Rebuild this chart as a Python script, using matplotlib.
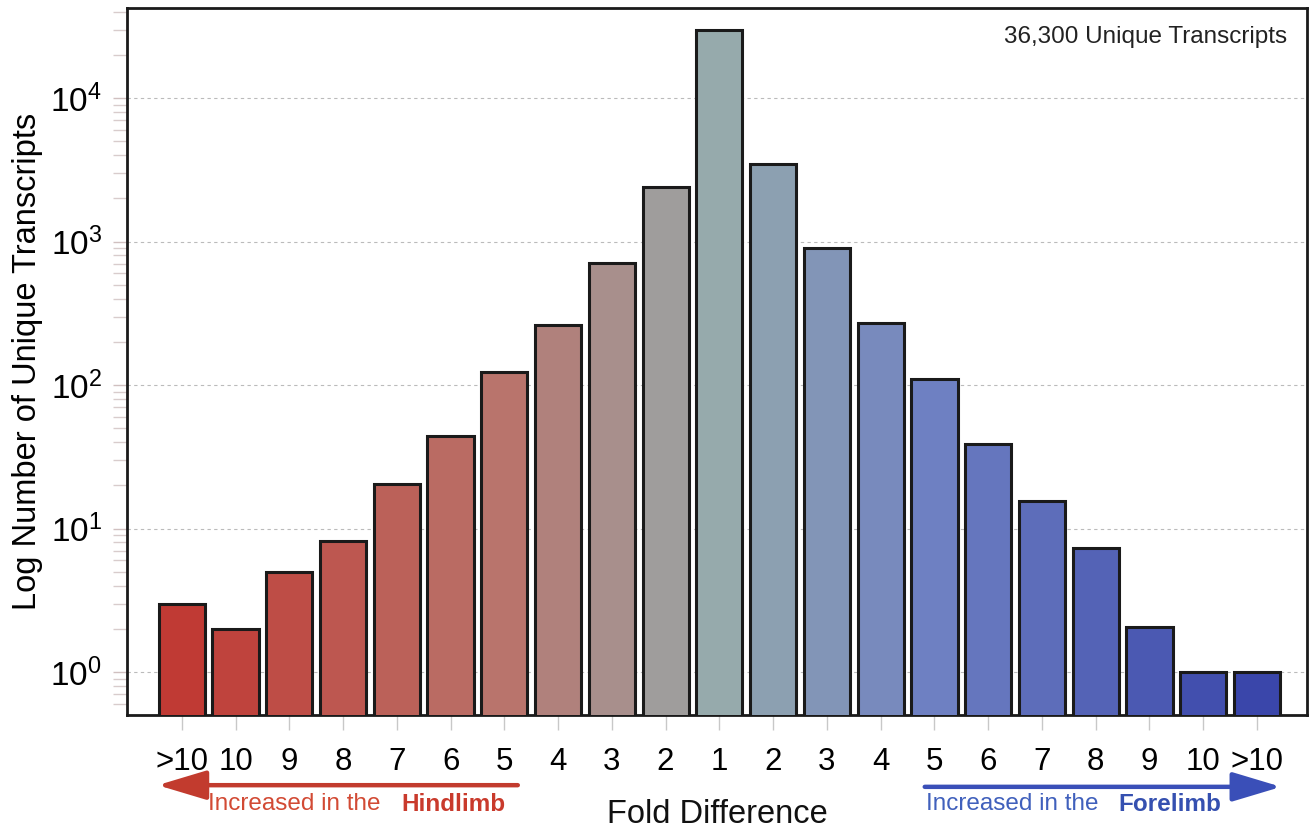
import numpy as np
import matplotlib.pyplot as plt
from matplotlib.colors import LinearSegmentedColormap
from matplotlib.transforms import blended_transform_factory
from matplotlib.ticker import LogLocator, NullFormatter

plt.rcParams['font.family'] = ['Liberation Sans', 'DejaVu Sans']

# Fold difference categories, hindlimb side -> forelimb side
fold_labels = ['>10', '10', '9', '8', '7', '6', '5', '4', '3', '2', '1',
               '2', '3', '4', '5', '6', '7', '8', '9', '10', '>10']
transcripts = [3.0, 2.0, 5.0, 8.2, 20.5, 44, 123, 262, 710, 2400, 30000,
               3450, 900, 270, 110, 39, 15.5, 7.3, 2.05, 1.0, 1.0]

total_label = '36,300 Unique Transcripts'

# colour gradient red -> grey -> blue
cmap = LinearSegmentedColormap.from_list(
    'limb', [(0.0, '#c03a34'), (0.3, '#b9746c'), (0.5, '#96aaac'),
             (0.7, '#6e80c2'), (1.0, '#3a46aa')])

x = np.arange(len(fold_labels))
colors = [cmap(i / (len(x) - 1)) for i in x]

fig = plt.figure(figsize=(13.13, 8.3), dpi=100)
ax = fig.add_axes([0.0967, 0.1386, 0.8987, 0.8518])

ax.bar(x, transcripts, width=0.86, color=colors, edgecolor='#1a1a1a',
       linewidth=2.2, zorder=3)

ax.set_yscale('log')
ax.set_ylim(0.502, 42400)
ax.set_xlim(-1.02, 20.93)

ax.yaxis.set_major_locator(LogLocator(base=10, numticks=10))
ax.yaxis.set_minor_locator(LogLocator(base=10, subs=np.arange(2, 10), numticks=20))
ax.yaxis.set_minor_formatter(NullFormatter())
ax.grid(axis='y', which='major', linestyle=(0, (3, 3)), color='#bbbbbb',
        linewidth=0.8, zorder=0)

ax.set_xticks(x)
ax.set_xticklabels(fold_labels, fontsize=22.5)
ax.tick_params(axis='x', length=11, width=1, color='#c8c8c8', pad=12)
ax.tick_params(axis='y', which='major', length=10, width=1, color='#d0c0c0',
               labelsize=24, pad=8)
ax.tick_params(axis='y', which='minor', length=10, width=1, color='#d8cccc')

for s in ax.spines.values():
    s.set_linewidth(2)
    s.set_color('#1a1a1a')

ax.set_ylabel('Log Number of Unique Transcripts', fontsize=23.5, labelpad=5)

ax.text(0.983, 0.975, total_label, transform=ax.transAxes, ha='right',
        va='top', fontsize=17.5, color='#222222')

fig.text(0.546, 0.019, 'Fold Difference', ha='center', va='center',
         fontsize=23.5, color='#111111')

# direction arrows under the axis
tr = blended_transform_factory(ax.transData, fig.transFigure)
red = '#c23b2e'
blue = '#3a4fb8'
astyle = '-|>,head_length=1.5,head_width=0.45'
ax.annotate('', xy=(-0.45, 0.054), xytext=(6.25, 0.054), xycoords=tr,
            textcoords=tr, annotation_clip=False,
            arrowprops=dict(arrowstyle=astyle, lw=3.2, color=red,
                            mutation_scale=20, shrinkA=0, shrinkB=0))
ax.annotate('', xy=(20.45, 0.052), xytext=(13.82, 0.052), xycoords=tr,
            textcoords=tr, annotation_clip=False,
            arrowprops=dict(arrowstyle=astyle, lw=3.2, color=blue,
                            mutation_scale=20, shrinkA=0, shrinkB=0))

t1 = ax.text(0.49, 0.031, 'Increased in the   ', transform=tr, ha='left',
             va='center', fontsize=17.5, color='#d24a34')
fig.canvas.draw()
bb = t1.get_window_extent()
xe = ax.transData.inverted().transform((bb.x1, 0))[0]
ax.text(xe, 0.031, 'Hindlimb', transform=tr, ha='left', va='center',
        fontsize=17.5, fontweight='bold', color='#c93a2c')

t2 = ax.text(13.84, 0.031, 'Increased in the   ', transform=tr, ha='left',
             va='center', fontsize=17.5, color='#4060bc')
fig.canvas.draw()
bb = t2.get_window_extent()
xe = ax.transData.inverted().transform((bb.x1, 0))[0]
ax.text(xe, 0.031, 'Forelimb', transform=tr, ha='left', va='center',
        fontsize=17.5, fontweight='bold', color='#3550b0')

fig.savefig('out.png', dpi=100)
